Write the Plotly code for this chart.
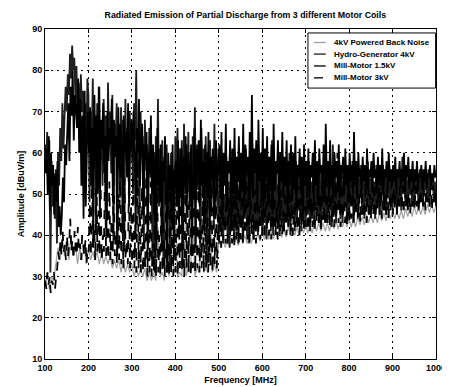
import numpy as np
import plotly.graph_objects as go

# Sweep settings per measurement (start frequency and step in MHz)
sweep_start = [100.0, 100.0, 101.25, 100.6]
sweep_step = [5.0, 2.5, 2.5, 2.5]

# 4kV Powered Back Noise (dBuV/m), 5 MHz sweep
noise = [
    28, 31, 27, 30, 29, 33,
    37, 34, 39, 35, 38, 34, 40, 35, 38, 33, 37, 34, 38, 33,
    37, 34, 36, 34, 36, 33, 36, 33, 35, 33, 35, 32, 34, 32, 34, 31, 34, 31, 33, 31, 33, 30, 32, 30, 32, 30, 32, 29, 31, 29,
    31, 29, 42, 30, 31, 29, 47, 30, 32, 30, 44, 30, 31, 30, 52, 30, 32, 31, 45, 30, 32, 31, 49, 31, 32, 31, 46, 31, 33, 31,
    39, 37, 39, 37, 39, 37, 39.5, 37.5, 39.5, 37.5,
    40, 38, 40, 38, 40, 38, 40.5, 38.5, 40.5, 38.5,
    41, 39, 41, 39, 41, 39, 41.5, 39.5, 41.5, 39.5,
    41.5, 39.5, 42, 40, 42, 40, 42, 40, 42.5, 40.5,
    42.5, 40.5, 42.5, 40.5, 43, 41, 43, 41, 43, 41,
    43, 41, 43.5, 41.5, 43.5, 41.5, 44, 42, 44, 42,
    44, 42, 44, 42, 44.5, 42.5, 44.5, 42.5, 45, 43,
    45, 43, 45, 43, 45.5, 43.5, 45.5, 43.5, 46, 44,
    46, 44, 46, 44, 46, 44, 46.5, 44.5, 46.5, 44.5,
    47, 45, 47, 45, 47, 45, 47.5, 45.5, 47.5, 45.5,
    47,
]

# Hydro-Generator 4kV (dBuV/m), 2.5 MHz sweep
hydro = [
    62, 57, 65, 55, 63, 31, 58, 47, 53, 44, 56, 38, 60, 52, 66, 58, 72, 61, 69, 76,
    70, 79, 74, 84, 78, 86, 80, 83, 73, 81, 68, 77, 64, 79, 70, 75, 60, 72, 55, 78,
    74, 48, 70, 62, 78, 56, 68, 40, 72, 65, 76, 58, 66, 52, 73, 61, 69, 45, 77, 63,
    70, 55, 74, 38, 67, 62, 72, 57, 65, 49, 71, 60, 68, 36, 73, 58, 66, 53, 70, 61,
    67, 50, 72, 63, 80, 55, 66, 44, 70, 59, 64, 38, 68, 57, 62, 48, 66, 54, 60, 34,
    58, 31, 64, 52, 73, 47, 61, 55, 63, 33, 59, 50, 62, 44, 57, 32, 60, 49, 56, 41,
    64, 53, 66, 46, 61, 55, 63, 38, 67, 50, 62, 54, 65, 47, 60, 35, 64, 52, 71, 48,
    62, 51, 59, 37, 66, 54, 61, 45, 64, 33, 60, 52, 63, 46, 58, 50, 67, 44, 61, 49,
    39, 54, 41, 57, 38, 50, 43, 59, 40, 53, 37, 56, 42, 51, 39, 60, 41, 55, 38, 52,
    42, 58, 39, 54, 44, 61, 40, 52, 38, 57, 43, 62, 39, 55, 41, 59, 40, 53, 44, 58,
    40, 56, 43, 60, 39, 54, 45, 58, 41, 63, 40, 55, 44, 57, 42, 52, 40, 59, 43, 55,
    41, 57, 44, 53, 42, 60, 40, 56, 45, 54, 41, 58, 43, 55, 46, 59, 41, 53, 44, 57,
    42, 55, 45, 58, 41, 53, 44, 60, 42, 56, 47, 54, 43, 57, 42, 52, 46, 59, 43, 55,
    43, 57, 46, 54, 42, 62, 45, 55, 43, 53, 48, 58, 44, 54, 43, 56, 47, 53, 44, 57,
    44, 55, 47, 58, 43, 53, 46, 56, 44, 54, 49, 57, 45, 53, 44, 55, 48, 58, 45, 54,
    45, 56, 48, 53, 44, 57, 47, 54, 45, 55, 50, 53, 46, 56, 45, 54, 49, 57, 46, 53,
    46, 55, 49, 53, 45, 56, 48, 54, 46, 59, 50, 53, 47, 55, 46, 54, 50, 56, 47, 53,
    47, 55, 50, 53, 46, 56, 49, 54, 47, 55, 51, 53, 48, 56, 47, 54, 51, 55, 48, 53,
    47,
]

# Mill-Motor 1.5kV (dBuV/m), 2.5 MHz sweep
mill15 = [
    55, 61, 50, 64, 46, 60, 52, 57, 45, 55, 48, 58, 42, 47, 40, 45, 54, 48, 62, 57,
    65, 72, 58, 76, 69, 80, 63, 74, 71, 66, 78, 60, 73, 52, 69, 44, 75, 47, 62, 70,
    60, 71, 52, 66, 37, 74, 58, 69, 50, 76, 44, 68, 61, 72, 55, 64, 40, 70, 58, 66,
    62, 73, 48, 68, 59, 64, 35, 71, 56, 67, 62, 42, 69, 60, 65, 54, 72, 47, 63, 68,
    58, 70, 62, 41, 66, 60, 73, 52, 63, 67, 45, 62, 58, 65, 36, 60, 55, 69, 50, 62,
    45, 60, 38, 66, 55, 48, 62, 36, 58, 53, 64, 46, 31, 60, 51, 57, 43, 62, 35, 55,
    58, 47, 63, 42, 57, 61, 33, 59, 52, 64, 45, 60, 56, 49, 62, 41, 58, 66, 37, 61,
    55, 63, 47, 68, 52, 58, 41, 62, 55, 49, 65, 36, 59, 54, 61, 44, 57, 63, 50, 56,
    62, 49, 65, 44, 60, 52, 67, 46, 58, 55, 63, 41, 61, 50, 66, 47, 59, 53, 64, 48,
    60, 51, 67, 45, 62, 56, 59, 47, 65, 52, 74, 49, 61, 55, 63, 46, 68, 53, 60, 50,
    66, 48, 61, 54, 64, 47, 59, 52, 62, 45, 67, 51, 58, 55, 63, 47, 60, 53, 65, 49,
    59, 52, 63, 46, 58, 55, 62, 49, 60, 51, 64, 47, 57, 54, 61, 50, 59, 45, 62, 52,
    58, 51, 61, 48, 57, 54, 60, 49, 63, 52, 58, 47, 61, 55, 57, 50, 62, 48, 67, 53,
    58, 50, 63, 53, 57, 48, 60, 54, 58, 51, 62, 49, 57, 55, 59, 50, 61, 52, 57, 49,
    60, 53, 57, 50, 65, 52, 58, 49, 60, 54, 56, 51, 59, 53, 57, 50, 61, 52, 56, 54,
    58, 51, 60, 54, 56, 50, 59, 53, 57, 52, 61, 50, 56, 54, 58, 51, 60, 53, 56, 52,
    57, 53, 59, 51, 56, 54, 58, 52, 56, 53, 60, 51, 57, 54, 59, 52, 56, 53, 58, 51,
    56, 53, 58, 52, 55, 54, 57, 51, 56, 53, 58, 52, 55, 54, 57, 52, 55, 53, 57, 54,
    55,
]

# Mill-Motor 3kV (dBuV/m), 2.5 MHz sweep
mill3 = [
    29, 27, 31, 28, 30, 26, 29, 28, 31, 27, 30, 32, 36, 34, 39, 35, 41, 36, 38, 34,
    40, 35, 38, 44, 36, 39, 34, 41, 37, 35, 42, 36, 38, 34, 40, 37, 35, 39, 33, 37,
    36, 48, 35, 55, 37, 42, 34, 58, 36, 46, 35, 52, 34, 40, 36, 57, 35, 47, 34, 53,
    34, 44, 33, 56, 35, 41, 33, 50, 34, 60, 33, 45, 32, 54, 34, 39, 33, 52, 32, 47,
    33, 55, 32, 43, 31, 58, 32, 48, 31, 52, 31, 40, 32, 57, 30, 45, 31, 53, 30, 38,
    31, 45, 30, 54, 31, 40, 30, 57, 31, 44, 30, 51, 31, 38, 30, 56, 31, 47, 30, 42,
    31, 53, 30, 45, 32, 59, 31, 42, 30, 55, 32, 48, 31, 57, 30, 43, 32, 52, 31, 46,
    32, 58, 31, 44, 32, 53, 31, 49, 32, 60, 31, 42, 32, 55, 31, 47, 33, 52, 32, 45,
    38, 47, 37, 53, 39, 45, 38, 56, 37, 49, 39, 44, 38, 54, 37, 48, 39, 57, 38, 46,
    39, 52, 38, 46, 40, 58, 39, 48, 38, 55, 40, 45, 39, 51, 38, 60, 40, 47, 39, 53,
    40, 49, 39, 55, 41, 46, 40, 57, 39, 50, 41, 54, 40, 47, 39, 59, 41, 51, 40, 46,
    41, 53, 40, 48, 42, 56, 41, 50, 40, 47, 42, 58, 41, 52, 40, 49, 42, 55, 41, 47,
    42, 51, 41, 56, 43, 49, 42, 54, 41, 48, 43, 58, 42, 50, 41, 53, 43, 47, 42, 55,
    43, 50, 42, 57, 43, 48, 42, 53, 44, 60, 43, 49, 42, 55, 44, 51, 43, 48, 42, 56,
    43, 51, 44, 55, 43, 49, 45, 57, 44, 50, 43, 54, 45, 48, 44, 53, 43, 58, 44, 50,
    44, 52, 45, 55, 44, 49, 46, 54, 45, 51, 44, 57, 46, 50, 45, 53, 44, 49, 46, 55,
    45, 51, 46, 54, 45, 50, 47, 56, 46, 52, 45, 53, 47, 50, 46, 55, 45, 51, 47, 54,
    46, 52, 47, 54, 46, 50, 48, 55, 47, 51, 46, 53, 48, 50, 47, 54, 46, 52, 48, 51,
    47,
]

names = ["4kV Powered Back Noise", "Hydro-Generator 4kV", "Mill-Motor 1.5kV", "Mill-Motor 3kV"]
series = [noise, hydro, mill15, mill3]
colors = ["#a0a0a0", "#1e1e1e", "#000000", "#000000"]
dashes = ["solid", "solid", "solid", "dash"]
widths = [1.2, 1.8, 1.8, 1.8]

x_ticks = [100, 200, 300, 400, 500, 600, 700, 800, 900, 1000]
y_ticks = [10, 20, 30, 40, 50, 60, 70, 80, 90]

FONT_FAMILY = "Liberation Sans, Arial, sans-serif"
font = dict(family=FONT_FAMILY, size=9, color="black", weight="bold")

fig = go.Figure()
for name, vals, start, step, c, d, w in zip(names, series, sweep_start, sweep_step, colors, dashes, widths):
    f = start + step * np.arange(len(vals))
    fig.add_trace(go.Scatter(x=f, y=vals, mode="lines", name=name, showlegend=False,
                             line=dict(color=c, width=w, dash=d)))

axis_common = dict(showline=True, linecolor="black", linewidth=1, mirror="ticks",
                   ticks="inside", ticklen=4, tickcolor="black",
                   showgrid=True, gridcolor="black", gridwidth=1, griddash="2px,4px",
                   zeroline=False, tickfont=font)

# Legend box (drawn in plot-area paper coordinates, like MATLAB's legend)
shapes = [dict(type="rect", xref="paper", yref="paper", x0=0.6725, x1=0.999, y0=0.821, y1=0.988,
               line=dict(color="black", width=1), fillcolor="white", layer="above")]
annotations = []
item_y = [0.959, 0.924, 0.888, 0.852]
for name, c, d, yy in zip(names, colors, dashes, item_y):
    shapes.append(dict(type="line", xref="paper", yref="paper", x0=0.688, x1=0.718, y0=yy, y1=yy,
                       line=dict(color=c, width=1.3, dash=d), layer="above"))
    annotations.append(dict(text=name, xref="paper", yref="paper", x=0.734, y=yy,
                            xanchor="left", yanchor="middle", showarrow=False,
                            font=dict(family=FONT_FAMILY, size=8, color="black", weight="bold")))

fig.update_layout(
    width=450, height=387,
    margin=dict(l=36, r=14, t=21, b=30),
    paper_bgcolor="white", plot_bgcolor="white",
    font=font,
    showlegend=False,
    title=dict(text="Radiated Emission of Partial Discharge from 3 different Motor Coils",
               xref="paper", x=0.5125, xanchor="center", y=0.982, yanchor="middle",
               font=dict(family=FONT_FAMILY, size=8.8, color="black", weight="bold")),
    xaxis=dict(range=[100, 1000], tickvals=x_ticks,
               title=dict(text="Frequency [MHz]", standoff=4, font=font), **axis_common),
    yaxis=dict(range=[10, 90], tickvals=y_ticks,
               title=dict(text="Amplitude [dBuV/m]", standoff=6, font=font), **axis_common),
    shapes=shapes,
    annotations=annotations,
)

fig.write_html("out.html")
